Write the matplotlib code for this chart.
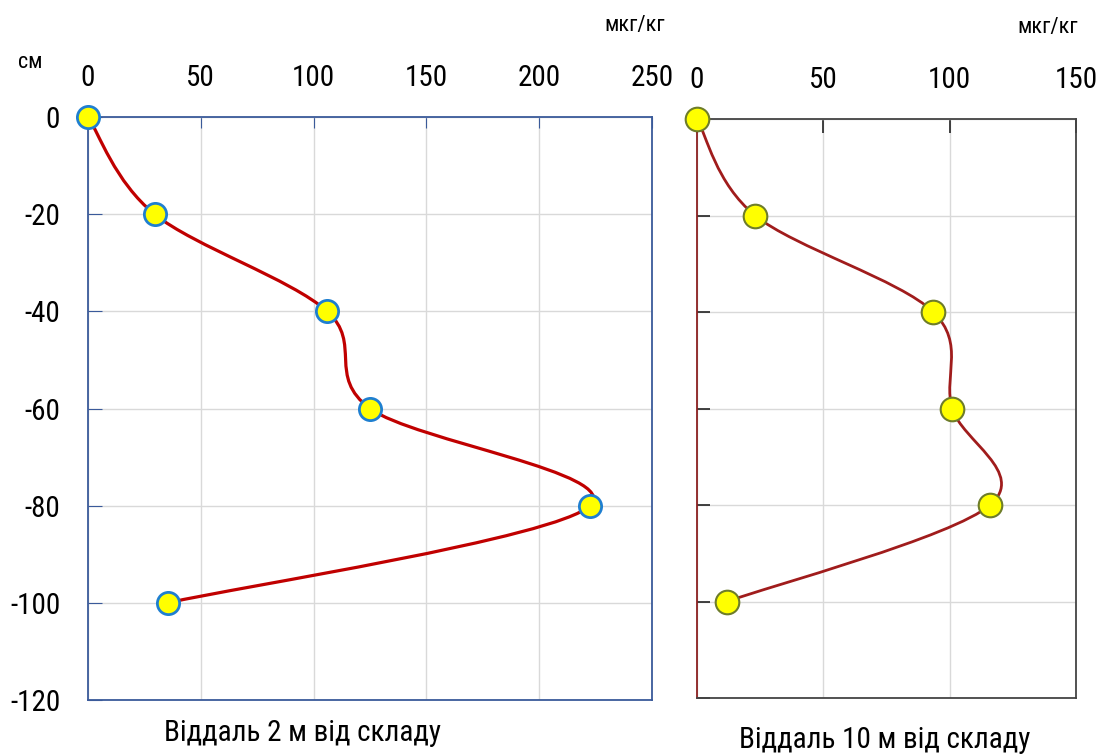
import numpy as np
import matplotlib
matplotlib.use("Agg")
import matplotlib.pyplot as plt
from matplotlib import font_manager
from matplotlib.path import Path
from matplotlib.patches import PathPatch

# prefer a narrow font (like Arial Narrow) if one is installed
FONT = "Liberation Sans"
FONT_STRETCH = "normal"
for f in font_manager.findSystemFonts():
    low = f.lower()
    if ("narrow" in low or "condensed" in low) and "bold" not in low and "italic" not in low and "oblique" not in low and "light" not in low:
        try:
            font_manager.fontManager.addfont(f)
            prop = font_manager.FontProperties(fname=f)
            FONT = prop.get_name()
            FONT_STRETCH = prop.get_stretch()
            if "liberation" in low:
                break
        except Exception:
            pass
plt.rcParams['font.family'] = [FONT, 'Liberation Sans', 'DejaVu Sans']
plt.rcParams['font.stretch'] = FONT_STRETCH
plt.rcParams['axes.unicode_minus'] = False

depth = [0, -20, -40, -60, -80, -100]
conc_2m = [0, 29.5, 106, 125, 222.5, 35.5]
conc_10m = [0, 23, 93.5, 101, 116, 12]
xticks_2m = [0, 50, 100, 150, 200, 250]
xticks_10m = [0, 50, 100, 150]
yticks = [0, -20, -40, -60, -80, -100, -120]
unit_x = "мкг/кг"
unit_y = "см"
title_2m = "Віддаль 2 м від складу"
title_10m = "Віддаль 10 м від складу"


def smooth_line(ax, xs, ys, color, lw):
    # Excel-like smoothed line: cubic Bezier (Catmull-Rom) in display space
    pts = ax.transData.transform(np.column_stack([xs, ys]))
    n = len(pts)
    verts = [pts[0]]
    codes = [Path.MOVETO]
    for i in range(n - 1):
        p0 = pts[i - 1] if i > 0 else pts[i]
        p1 = pts[i]
        p2 = pts[i + 1]
        p3 = pts[i + 2] if i + 2 < n else pts[i + 1]
        c1 = p1 + (p2 - p0) / 6.0
        c2 = p2 - (p3 - p1) / 6.0
        verts += [c1, c2, p2]
        codes += [Path.CURVE4] * 3
    path = Path(verts, codes)
    patch = PathPatch(path, transform=None, fill=False, edgecolor=color,
                      lw=lw, zorder=3, capstyle='round', joinstyle='round')
    ax.add_artist(patch)


narrow = FONT != "Liberation Sans"
fs = 21 if narrow else 18
fs_title = 21 if narrow else 18
fs_unit = 16 if narrow else 14

fig = plt.figure(figsize=(11.07, 7.54), dpi=100)
ax1 = fig.add_axes([88/1107, 1-700/754, (652-88)/1107, (700-117)/754])
ax2 = fig.add_axes([697/1107, 1-698/754, (1076-697)/1107, (698-119)/754])

# left panel
blue = "#3A5A9A"
ax1.set_xlim(0, 250)
ax1.set_ylim(-120, 0)
ax1.set_xticks(xticks_2m)
ax1.set_yticks(yticks)
ax1.xaxis.tick_top()
ax1.tick_params(axis='x', direction='in', length=8, color=blue, labelsize=fs, pad=18)
ax1.tick_params(axis='y', direction='in', length=10, color=blue, labelsize=fs, pad=20)
ax1.grid(True, color="#D9D9D9", lw=1)
ax1.set_axisbelow(True)
for s in ax1.spines.values():
    s.set_color(blue)
    s.set_linewidth(1.3)
fig.canvas.draw()
smooth_line(ax1, conc_2m, depth, "#C00000", 2.3)
ax1.plot(conc_2m, depth, 'o', ms=16, mfc="#FFFF00", mec="#1F7FD0", mew=2, zorder=5, clip_on=False)

# right panel
dark = "#444444"
ax2.set_xlim(0, 150)
ax2.set_ylim(-120, 0)
ax2.set_xticks(xticks_10m)
ax2.set_yticks(yticks)
ax2.set_yticklabels([])
ax2.xaxis.tick_top()
ax2.tick_params(axis='x', direction='in', length=10, color="#222222", labelsize=fs, pad=18, width=1.2)
ax2.tick_params(axis='y', direction='in', length=9, color="#222222", width=1.2)
ax2.grid(True, color="#D9D9D9", lw=1)
ax2.set_axisbelow(True)
for s in ax2.spines.values():
    s.set_color(dark)
    s.set_linewidth(1.3)
ax2.spines['left'].set_color("#8B2020")
smooth_line(ax2, conc_10m, depth, "#A01C1C", 2.0)
ax2.plot(conc_10m, depth, 'o', ms=17, mfc="#FFFF00", mec="#6E7D2A", mew=1.5, zorder=5, clip_on=False)

# texts
fig.text(635/1107, 1-25/754, unit_x, fontsize=fs_unit, ha='center', va='center')
fig.text(1048/1107, 1-28/754, unit_x, fontsize=fs_unit, ha='center', va='center')
fig.text(30/1107, 1-62/754, unit_y, fontsize=fs_unit, ha='center', va='center')
fig.text(302/1107, 1-733/754, title_2m, fontsize=fs_title, ha='center', va='center')
fig.text(885/1107, 1-740/754, title_10m, fontsize=fs_title, ha='center', va='center')

fig.savefig("out.png", dpi=100)
